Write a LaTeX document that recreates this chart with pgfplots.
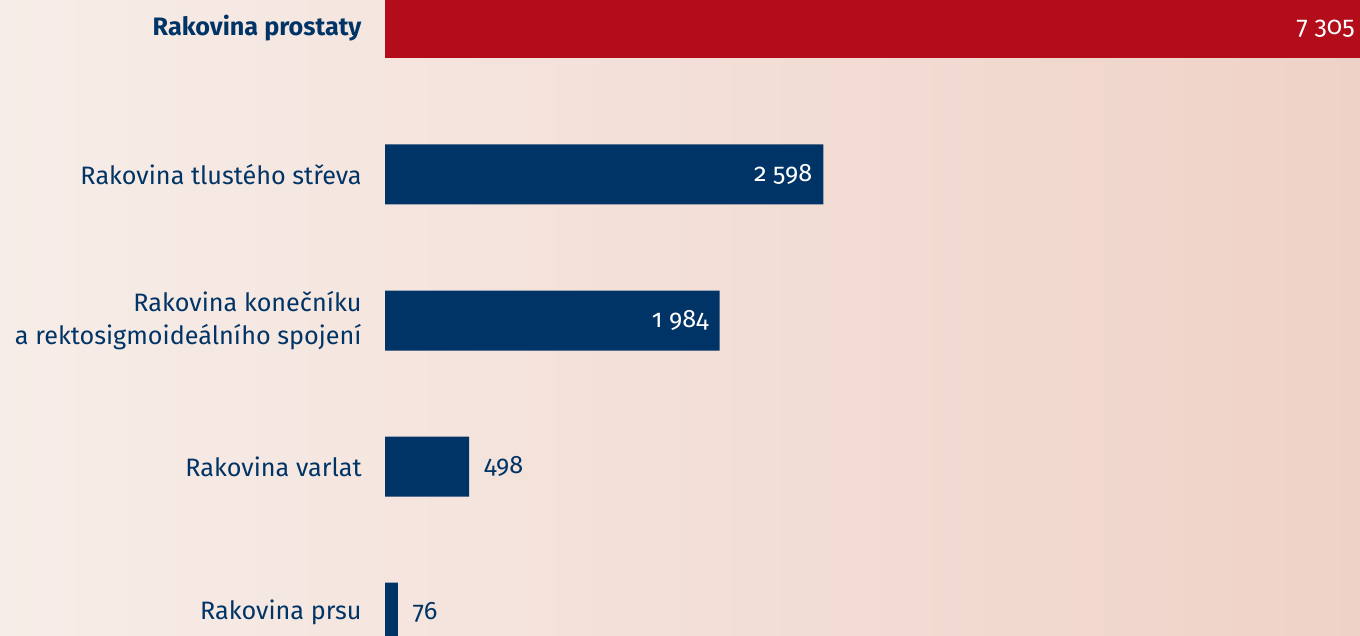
\documentclass[border=0pt]{standalone}
\usepackage{pgfplots}
\pgfplotsset{compat=1.18}
\usepackage{fontspec}
\setmainfont{Fira Sans}[Numbers=OldStyle]
\definecolor{navy}{HTML}{013466}
\definecolor{bred}{HTML}{B30D1C}
\definecolor{bgl}{HTML}{F7EDE8}
\definecolor{bgr}{HTML}{EFD2C7}
\newcommand{\lblfont}{\fontsize{12.6}{16.5}\selectfont}
\begin{document}
\begin{tikzpicture}
\shade[left color=bgl, right color=bgr] (0,0) rectangle (680pt,317.5pt);
\begin{axis}[
  at={(192.5pt,0pt)}, anchor=south west,
  scale only axis, width=487.5pt, height=317.5pt,
  xmin=0, xmax=5780,
  ymin=-0.195, ymax=4.154, y dir=reverse,
  axis lines=none,
  xbar, bar width=30pt, bar shift=0pt,
  clip=true,
  ytick={0,1,2,3,4},
  /pgf/number format/assume math mode=true,
  /pgf/number format/1000 sep={\ },
]
\addplot[draw=none, fill=bred] coordinates {(7305,0)};
\addplot[draw=none, fill=navy,
  nodes near coords, nodes near coords style={anchor=east, text=white, font=\lblfont, xshift=-2pt}]
  coordinates {(2598,1) (1984,2)};
\addplot[draw=none, fill=navy,
  nodes near coords, nodes near coords style={anchor=west, text=navy, font=\lblfont, xshift=4pt}]
  coordinates {(498,3) (76,4)};
\node[anchor=east, text=white, font=\lblfont, inner sep=2.5pt] at (axis cs:5780,0) {7\ 305};
\end{axis}
\begin{scope}[every node/.style={anchor=east, text=navy, font=\lblfont, align=right, inner sep=0pt}]
\node at (181pt,303.25pt) {\textbf{Rakovina prostaty}};
\node at (181pt,230.25pt) {Rakovina tlustého střeva};
\node at (181pt,157.25pt) {Rakovina konečníku\\a rektosigmoideálního spojení};
\node at (181pt,84.25pt) {Rakovina varlat};
\node at (181pt,11.25pt) {Rakovina prsu};
\end{scope}
\end{tikzpicture}
\end{document}
